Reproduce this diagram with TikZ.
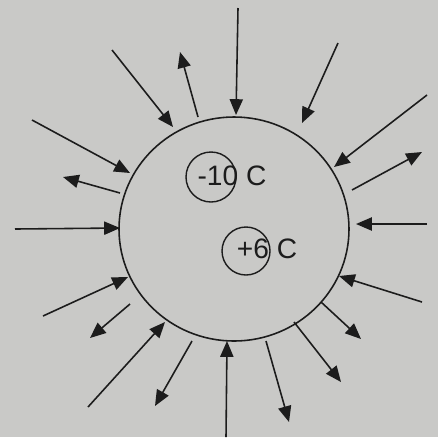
\documentclass[tikz,border=0pt]{standalone}
\usepackage{fontspec}
\setsansfont{Liberation Sans}
\usetikzlibrary{arrows.meta}
\definecolor{paper}{RGB}{201,201,199}
\definecolor{ink}{RGB}{28,28,28}
\tikzset{
	fieldline/.style={draw=ink, line width=0.9pt, -{Triangle[length=9pt,width=7.5pt]}}
}
\tikzset{
	chargetext/.style={font=\sffamily\fontsize{16}{19}\selectfont, text=ink, inner sep=0pt}
}

\begin{document}
\begin{tikzpicture}[x=0.02cm, y=-0.02cm]
      \fill[paper] (0,0) rectangle (438,437);
      \useasboundingbox (0,0) rectangle (438,437);

      % the closed surface
      \draw[ink, line width=0.9pt] (234,229) ellipse [x radius=115, y radius=112];

      % charges inside
      \draw[ink, line width=0.8pt] (211,177) circle (25);
      \draw[ink, line width=0.8pt] (246,251) circle (24);
      \node[chargetext] (qneg) at (232,176) {-10 C};
      \node[chargetext] (qpos) at (267,249) {+6 C};

      % field lines going in
      \foreach \sx/\sy/\ex/\ey in {112/50/173/127, 32/120/130/173, 238/8/236/115,
          338/43/302/123, 427/95/334/167, 15/229/120/228, 43/316/128/277,
          88/407/165/322, 427/224/356/224, 422/302/339/276, 226/437/227/341}
        \draw[fieldline] (\sx,\sy) -- (\ex,\ey);

      % field lines going out
      \foreach \sx/\sy/\ex/\ey in {198/117/180/52, 120/193/63/177, 352/190/422/152,
          130/304/90/338, 192/341/155/406, 321/302/361/339, 294/322/341/382,
          266/341/289/422}
        \draw[fieldline] (\sx,\sy) -- (\ex,\ey);
    \end{tikzpicture}
\end{document}
